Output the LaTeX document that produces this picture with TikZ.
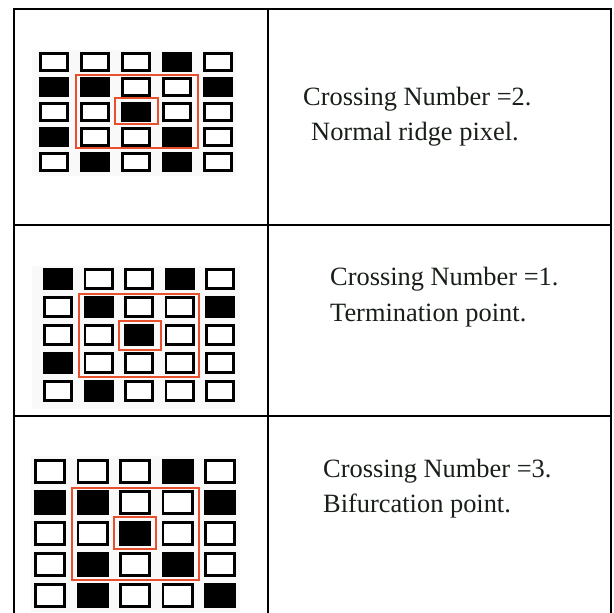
\documentclass[tikz,border=0pt]{standalone}
\usepackage{fontspec}
\setmainfont{Liberation Serif}
\definecolor{redline}{RGB}{232,80,45}
\definecolor{txt}{RGB}{24,30,24}
\definecolor{bgpix}{RGB}{249,249,249}
\tikzset{
  rule/.style={line width=1.8pt, black},
  cellw/.style={draw=black, line width=2.6pt, fill=white},
  cellb/.style={fill=black},
  redbox/.style={draw=redline, line width=1.4pt},
  lbl/.style={anchor=base west, inner sep=0pt, text=txt, font=\fontsize{26.4}{30}\selectfont},
}
\newcommand{\pixgrid}[7]{%
  \foreach \row [count=\r from 0] in {#7} {
    \foreach \v [count=\c from 0] in \row {
      \pgfmathsetmacro\xa{#1+\c*#2}
      \pgfmathsetmacro\ya{#4+\r*#5}
      \ifnum\v=1
        \fill[cellb] (\xa,\ya) rectangle ++(#3,#6);
      \else
        \draw[cellw] (\xa+1.3,\ya+1.3) rectangle ++(#3-2.6,#6-2.6);
      \fi
    }
  }
}
\begin{document}
\begin{tikzpicture}[x=1pt,y=-1pt]
\useasboundingbox (0,0) rectangle (614,613);
% table rules
\draw[rule] (14,613.5) -- (14,9) -- (611,9) -- (611,613.5);
\draw[rule] (268,9) -- (268,613.5);
\draw[rule] (14,225) -- (611,225);
\draw[rule] (14,416) -- (611,416);
% light backgrounds of the pixel images
\fill[bgpix] (32,50) rectangle (236,176);
\fill[bgpix] (32,266) rectangle (240,409);
\fill[bgpix] (31,456) rectangle (240,612);
% grid 1
\pixgrid{39}{41}{30}{52}{25}{20}{{0,0,0,1,0},{1,1,0,0,1},{0,0,1,0,0},{1,0,0,1,0},{0,1,0,1,0}}
\draw[redbox] (76,75) rectangle (198,148);
\draw[redbox] (115,98) rectangle (158,124);
% grid 2
\pixgrid{43}{40.5}{30}{268}{28}{22}{{1,0,0,1,0},{0,1,0,0,1},{0,0,1,0,0},{1,0,0,0,0},{0,1,0,0,0}}
\draw[redbox] (79,294) rectangle (199,377);
\draw[redbox] (119,321) rectangle (161,350);
% grid 3
\pixgrid{34}{42.5}{32}{459}{31}{25}{{0,0,0,1,0},{1,1,0,0,1},{0,0,1,0,0},{0,1,0,1,0},{0,1,0,0,1}}
\draw[redbox] (72,488) rectangle (199,580);
\draw[redbox] (114,517) rectangle (156,549);
% labels
\node[lbl] (t1a) at (303,105) {Crossing Number =2.};
\node[lbl] (t1b) at (311,140) {Normal ridge pixel.};
\node[lbl] (t2a) at (330,285) {Crossing Number =1.};
\node[lbl] (t2b) at (330,321) {Termination point.};
\node[lbl] (t3a) at (323,477) {Crossing Number =3.};
\node[lbl] (t3b) at (323,512) {Bifurcation point.};
\end{tikzpicture}
\end{document}
